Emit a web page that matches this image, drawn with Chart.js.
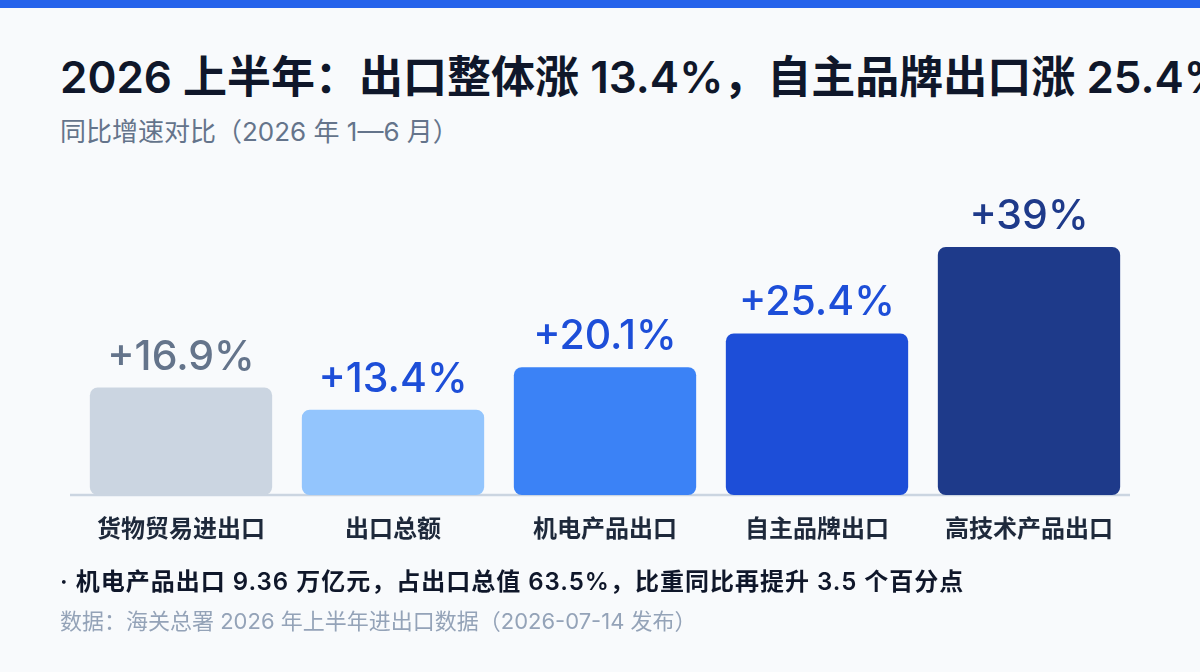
<!DOCTYPE html>
<html lang="zh">
<head>
<meta charset="utf-8">
<script src="https://cdn.jsdelivr.net/npm/chart.js@4.4.1/dist/chart.umd.min.js"></script>
<style>
  html, body { margin: 0; padding: 0; }
  body {
    width: 1200px; height: 672px; overflow: hidden; position: relative;
    background: #f8fafc;
    font-family: "Inter", "Noto Sans CJK SC", sans-serif;
  }
  .topbar { position: absolute; left: 0; top: 0; width: 1200px; height: 8px; background: #2563eb; }
  .title {
    position: absolute; left: 60px; top: 48px; white-space: nowrap;
    font-size: 44px; font-weight: 600; color: #0f172a; line-height: 58px;
  }
  .subtitle {
    position: absolute; left: 60px; top: 116px; white-space: nowrap;
    font-size: 26px; color: #64748b; line-height: 32px;
  }
  .note {
    position: absolute; left: 60px; top: 566px; white-space: nowrap;
    font-size: 24px; font-weight: 600; color: #0f172a; line-height: 32px;
    letter-spacing: 1px;
  }
  .source {
    position: absolute; left: 60px; top: 606px; white-space: nowrap;
    font-size: 22px; color: #94a3b8; line-height: 30px;
  }
  .wrap { position: absolute; left: 0; top: 0; width: 1200px; height: 672px; }
</style>
</head>
<body>
<div class="topbar"></div>
<div class="title">2026 上半年：出口整体涨 13.4%，自主品牌出口涨 25.4%</div>
<div class="subtitle">同比增速对比（2026 年 1—6 月）</div>
<div class="wrap"><canvas id="chart"></canvas></div>
<div class="note">· 机电产品出口 9.36 万亿元，占出口总值 63.5%，比重同比再提升 3.5 个百分点</div>
<div class="source">数据：海关总署 2026 年上半年进出口数据（2026-07-14 发布）</div>

<script>
const categories = ["货物贸易进出口", "出口总额", "机电产品出口", "自主品牌出口", "高技术产品出口"];
const growth = [16.9, 13.4, 20.1, 25.4, 39];
const valueLabels = ["+16.9%", "+13.4%", "+20.1%", "+25.4%", "+39%"];

const barColors = ["#cbd5e1", "#93c5fd", "#3b82f6", "#1d4ed8", "#1e3a8a"];
const labelColors = ["#64748b", "#1d4ed8", "#1d4ed8", "#1d4ed8", "#1e3a8a"];

const FONT = '"Inter", "Noto Sans CJK SC", sans-serif';

// baseline drawn a little left of the bars, like the original
const baseLine = {
    id: "baseLine",
    beforeDatasetsDraw(chart) {
        const { ctx, chartArea } = chart;
        ctx.save();
        ctx.strokeStyle = "#cbd5e1";
        ctx.lineWidth = 2.5;
        ctx.beginPath();
        ctx.moveTo(chartArea.left - 5, chartArea.bottom);
        ctx.lineTo(chartArea.right - 5, chartArea.bottom);
        ctx.stroke();
        ctx.restore();
    }
};

// value labels above bars
const barLabels = {
    id: "barLabels",
    afterDatasetsDraw(chart) {
        const ctx = chart.ctx;
        const meta = chart.getDatasetMeta(0);
        ctx.save();
        ctx.font = "500 41px " + FONT;
        ctx.textAlign = "center";
        ctx.textBaseline = "alphabetic";
        meta.data.forEach((bar, i) => {
            ctx.fillStyle = labelColors[i];
            ctx.fillText(valueLabels[i], bar.x, bar.y - 18);
        });
        ctx.restore();
    }
};

new Chart(document.getElementById("chart"), {
    type: "bar",
    data: {
        labels: categories,
        datasets: [{
            data: growth,
            backgroundColor: barColors,
            borderRadius: 8,
            borderSkipped: false,
            barPercentage: 0.86,
            categoryPercentage: 1.0
        }]
    },
    options: {
        responsive: true,
        maintainAspectRatio: false,
        animation: false,
        layout: { padding: { left: 75, right: 65, top: 177, bottom: 127 } },
        plugins: {
            legend: { display: false },
            tooltip: { enabled: false }
        },
        scales: {
            x: {
                grid: { display: false },
                border: { display: false },
                ticks: {
                    color: "#1e293b",
                    font: { family: FONT, size: 24, weight: "600" },
                    padding: 12,
                    maxRotation: 0
                },
                afterFit(scale) { scale.height = 50; }
            },
            y: {
                display: false,
                min: 0,
                max: 50
            }
        }
    },
    plugins: [baseLine, barLabels]
});
</script>
</body>
</html>
